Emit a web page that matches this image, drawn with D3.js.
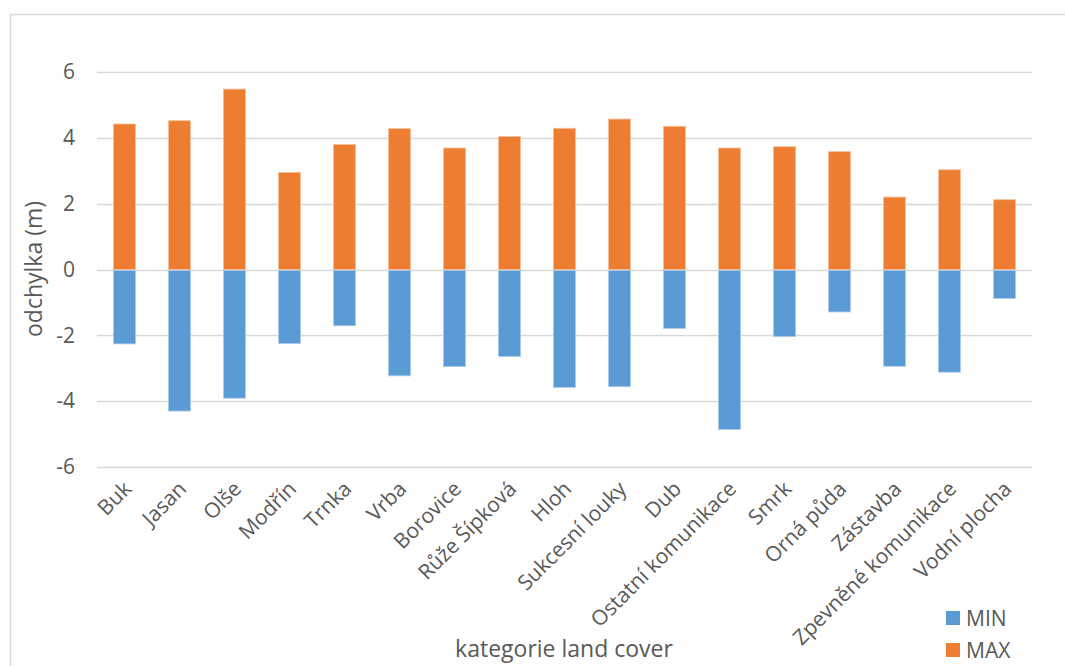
<!DOCTYPE html>
<html>
<head>
<meta charset="utf-8">
<script src="https://cdn.jsdelivr.net/npm/d3@7"></script>
<style>
  html, body { margin: 0; padding: 0; background: #ffffff; }
  svg { display: block; }
  text { font-family: "Open Sans", "Noto Sans", sans-serif; fill: #595959; }
</style>
</head>
<body>
<svg id="chart" width="1065" height="666"></svg>
<script>
// Land-cover categories and the min / max deviation per category (m)
const categories = ["Buk", "Jasan", "Olše", "Modřín", "Trnka", "Vrba", "Borovice", "Růže Šípková",
  "Hloh", "Sukcesní louky", "Dub", "Ostatní komunikace", "Smrk", "Orná půda", "Zástavba",
  "Zpevněné komunikace", "Vodní plocha"];
const minValues = [-2.26, -4.30, -3.91, -2.25, -1.71, -3.23, -2.95, -2.64,
  -3.58, -3.56, -1.79, -4.86, -2.04, -1.29, -2.94, -3.12, -0.88];
const maxValues = [4.42, 4.52, 5.48, 2.95, 3.80, 4.28, 3.69, 4.04,
  4.29, 4.57, 4.35, 3.69, 3.73, 3.58, 2.20, 3.03, 2.12];
const yTicks = [-6, -4, -2, 0, 2, 4, 6];
const seriesNames = ["MIN", "MAX"];
const seriesColors = ["#5B9BD5", "#ED7D31"];

const svg = d3.select("#chart");

// outer chart frame
svg.append("rect")
  .attr("x", 10.5).attr("y", 14.5)
  .attr("width", 1100).attr("height", 700)
  .attr("fill", "none").attr("stroke", "#D9D9D9").attr("stroke-width", 1.5);

const plot = { left: 97, right: 1032 };

const x = d3.scaleBand()
  .domain(categories)
  .range([plot.left, plot.right])
  .paddingInner(0.6).paddingOuter(0.3);

const y = d3.scaleLinear()
  .domain([-6, 6])
  .range([467, 72]);

// horizontal gridlines
svg.append("g")
  .selectAll("line")
  .data(yTicks)
  .join("line")
  .attr("x1", plot.left).attr("x2", plot.right)
  .attr("y1", d => Math.round(y(d)) + 0.5).attr("y2", d => Math.round(y(d)) + 0.5)
  .attr("stroke", "#D9D9D9").attr("stroke-width", 1.5);

// y-axis tick labels
const yAxis = d3.axisLeft(y).tickValues(yTicks).tickSize(0).tickPadding(0)
  .tickFormat(d => d3.format("d")(d).replace("−", "-"));
const gy = svg.append("g").attr("transform", "translate(75,0)").call(yAxis);
gy.select(".domain").remove();
gy.selectAll("text")
  .attr("font-size", 21)
  .attr("font-family", "'Open Sans', sans-serif")
  .attr("fill", "#595959");

// bars: MAX above zero, MIN below
const bars = svg.append("g");
bars.selectAll("rect.max")
  .data(categories)
  .join("rect")
  .attr("class", "max")
  .attr("x", d => x(d))
  .attr("width", x.bandwidth())
  .attr("y", (d, i) => y(maxValues[i]))
  .attr("height", (d, i) => y(0) - y(maxValues[i]))
  .attr("fill", seriesColors[1])
  .attr("stroke", "#F6BE98").attr("stroke-width", 0.8);

bars.selectAll("rect.min")
  .data(categories)
  .join("rect")
  .attr("class", "min")
  .attr("x", d => x(d))
  .attr("width", x.bandwidth())
  .attr("y", y(0) + 1)
  .attr("height", (d, i) => y(minValues[i]) - y(0) - 1)
  .attr("fill", seriesColors[0])
  .attr("stroke", "#A9CBEA").attr("stroke-width", 0.8);

// rotated category labels
const xAxis = d3.axisBottom(x).tickSize(0).tickPadding(0);
const gx = svg.append("g").attr("transform", "translate(0,490)").call(xAxis);
gx.select(".domain").remove();
gx.selectAll("text")
  .attr("font-size", 21)
  .attr("font-family", "'Open Sans', sans-serif")
  .attr("fill", "#595959")
  .attr("text-anchor", "end")
  .attr("dy", "0.35em")
  .attr("transform", "translate(3,-5) rotate(-45)");

// axis titles
svg.append("text")
  .attr("x", 564).attr("y", 657)
  .attr("text-anchor", "middle")
  .attr("font-size", 23)
  .text("kategorie land cover");

svg.append("text")
  .attr("transform", "translate(42,269) rotate(-90)")
  .attr("text-anchor", "middle")
  .attr("font-size", 23)
  .text("odchylka (m)");

// legend
const legend = svg.append("g");
seriesNames.forEach((name, i) => {
  const g = legend.append("g").attr("transform", `translate(946,${611 + i * 32})`);
  g.append("rect").attr("width", 14).attr("height", 14).attr("fill", seriesColors[i]);
  g.append("text").attr("x", 20).attr("y", 7).attr("dy", "0.36em")
    .attr("font-size", 21).text(name);
});
</script>
</body>
</html>
